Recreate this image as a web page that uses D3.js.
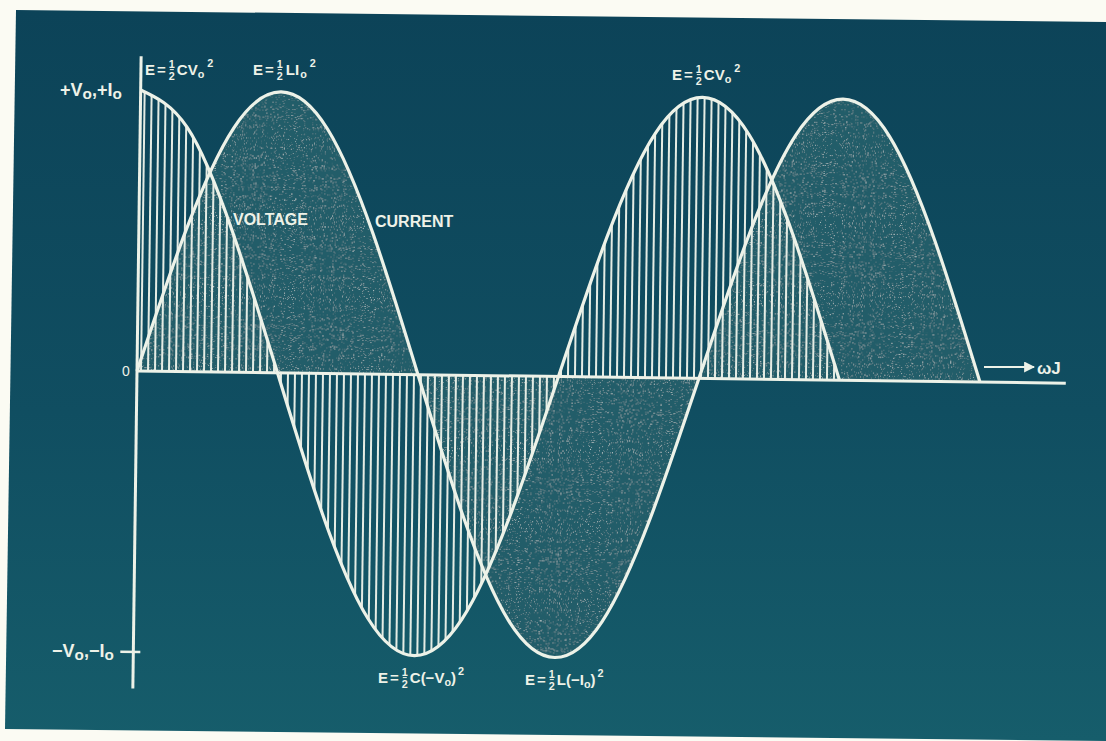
<!DOCTYPE html>
<html>
<head>
<meta charset="utf-8">
<script src="https://cdn.jsdelivr.net/npm/d3@7"></script>
<style>
  html, body { margin: 0; padding: 0; background: #fbfbf3; }
  svg { display: block; }
  text { font-family: "Liberation Sans", Arial, sans-serif; font-weight: bold; fill: #eef2e8; }
</style>
</head>
<body>
<svg id="chart" width="1106" height="741"></svg>
<script>
// Phase angle ωt in degrees, sampled every 30°
const phaseDeg = [0, 30, 60, 90, 120, 150, 180, 210, 240, 270, 300, 330, 360, 390, 420, 450, 480, 510, 540];
// Capacitor voltage, in units of V0 (0° .. 450°)
const voltage = [1, 0.87, 0.5, 0, -0.5, -0.87, -1, -0.87, -0.5, 0, 0.5, 0.87, 1, 0.87, 0.5, 0];
// Coil current, in units of I0 (0° .. 540°)
const current = [0, 0.5, 0.87, 1, 0.87, 0.5, 0, -0.5, -0.87, -1, -0.87, -0.5, 0, 0.5, 0.87, 1, 0.87, 0.5, 0];
// Axis ticks and extent
const yTicks = [-1];
const axisExtent = { xMax: 595, yMin: -1.13, yMax: 1.12 };

const svg = d3.select("#chart");
const W = 1106, H = 741;
const ink = "#edf2e8";

const defs = svg.append("defs");

// panel gradient
const grad = defs.append("linearGradient").attr("id", "panelGrad")
  .attr("x1", 0).attr("y1", 0).attr("x2", 0).attr("y2", 1);
grad.append("stop").attr("offset", "0%").attr("stop-color", "#0c4358");
grad.append("stop").attr("offset", "55%").attr("stop-color", "#104e61");
grad.append("stop").attr("offset", "100%").attr("stop-color", "#165d6b");

// stippled grain used on the current lobes
const grain = defs.append("filter").attr("id", "grain")
  .attr("x", "0%").attr("y", "0%").attr("width", "100%").attr("height", "100%");
grain.append("feTurbulence").attr("type", "fractalNoise").attr("baseFrequency", 0.9)
  .attr("numOctaves", 2).attr("seed", 7).attr("result", "noise");
grain.append("feColorMatrix").attr("in", "noise").attr("type", "matrix")
  .attr("values", "0 0 0 0 0.75  0 0 0 0 0.88  0 0 0 0 0.88  0 0 0 2.6 -1.65")
  .attr("result", "specks");
grain.append("feComposite").attr("in", "specks").attr("in2", "SourceGraphic")
  .attr("operator", "in").attr("result", "specksIn");
const gm = grain.append("feMerge");
gm.append("feMergeNode").attr("in", "SourceGraphic");
gm.append("feMergeNode").attr("in", "specksIn");

// page and panel
svg.append("rect").attr("width", W).attr("height", H).attr("fill", "#fbfbf3");
const panelPts = [[16, 10], [1106, 22], [1106, 741], [5, 729]];
svg.append("polygon").attr("points", panelPts.map(p => p.join(",")).join(" "))
  .attr("fill", "url(#panelGrad)");

// plot frame: origin at the axes crossing, turned slightly clockwise
const g = svg.append("g").attr("transform", "translate(137,371) rotate(0.75)");

const x = d3.scaleLinear().domain([0, 540]).range([0, 843]);
const y = d3.scaleLinear().domain([-1, 1]).range([281, -281]);

const vData = voltage.map((v, i) => ({ p: phaseDeg[i], v }));
const iData = current.map((v, i) => ({ p: phaseDeg[i], v }));

const area = d3.area().x(d => x(d.p)).y0(y(0)).y1(d => y(d.v)).curve(d3.curveNatural);
const line = d3.line().x(d => x(d.p)).y(d => y(d.v)).curve(d3.curveNatural);

// current lobes: grainy lighter fill
g.append("path").attr("d", area(iData))
  .attr("fill", "#215d69").attr("filter", "url(#grain)");

// voltage lobes: vertical hatching clipped to the area
defs.append("clipPath").attr("id", "vClip")
  .append("path").attr("d", area(vData));
const hatch = g.append("g").attr("clip-path", "url(#vClip)");
hatch.selectAll("line")
  .data(d3.range(4, x(450), 7))
  .join("line")
  .attr("x1", d => d).attr("x2", d => d)
  .attr("y1", y(1.05)).attr("y2", y(-1.05))
  .attr("stroke", "#e4ece4").attr("stroke-width", 2);

// axes
g.append("line").attr("x1", 0).attr("x2", x(axisExtent.xMax))
  .attr("y1", y(0)).attr("y2", y(0))
  .attr("stroke", ink).attr("stroke-width", 3);
g.append("line").attr("x1", 0).attr("x2", 0)
  .attr("y1", y(axisExtent.yMax)).attr("y2", y(axisExtent.yMin))
  .attr("stroke", ink).attr("stroke-width", 3);
g.selectAll(".ytick").data(yTicks).join("line").attr("class", "ytick")
  .attr("x1", -13).attr("x2", 7).attr("y1", d => y(d)).attr("y2", d => y(d))
  .attr("stroke", ink).attr("stroke-width", 2.5);

// waveforms
g.append("path").attr("d", line(iData))
  .attr("fill", "none").attr("stroke", ink).attr("stroke-width", 3.2);
g.append("path").attr("d", line(vData))
  .attr("fill", "none").attr("stroke", ink).attr("stroke-width", 3.2);

// arrow toward the ωt label
defs.append("marker").attr("id", "arrowHead").attr("viewBox", "0 0 10 10")
  .attr("refX", 9).attr("refY", 5).attr("markerWidth", 5).attr("markerHeight", 5)
  .attr("orient", "auto")
  .append("path").attr("d", "M0,0 L10,5 L0,10 z").attr("fill", ink);
svg.append("line").attr("x1", 984).attr("y1", 367).attr("x2", 1034).attr("y2", 367)
  .attr("stroke", ink).attr("stroke-width", 2.2).attr("marker-end", "url(#arrowHead)");

// ---- text helpers ----
const labels = svg.append("g");

function formula(x0, y0, parts, size) {
  const grp = labels.append("g");
  let cx = x0;
  parts.forEach(p => {
    if (p.frac) {
      const fs = size * 0.72;
      const a = grp.append("text").attr("x", cx).attr("y", y0 - size * 0.5)
        .style("font-size", fs + "px").text(p.frac[0]);
      const b = grp.append("text").attr("x", cx).attr("y", y0 + size * 0.3)
        .style("font-size", fs + "px").text(p.frac[1]);
      const wa = a.node().getComputedTextLength(), wb = b.node().getComputedTextLength();
      const w = Math.max(wa, wb);
      a.attr("x", cx + (w - wa) / 2);
      b.attr("x", cx + (w - wb) / 2);
      grp.append("line").attr("x1", cx + 1).attr("x2", cx + w - 1)
        .attr("y1", y0 - size * 0.36).attr("y2", y0 - size * 0.36)
        .attr("stroke", ink).attr("stroke-width", 1);
      cx += w + (p.gap || 1);
    } else {
      const small = p.sub || p.sup;
      const fs = small ? size * (p.scale || 0.72) : size;
      const dy = p.sub ? size * 0.18 : p.sup ? -size * 0.55 : 0;
      const t = grp.append("text").attr("x", cx).attr("y", y0 + dy)
        .style("font-size", fs + "px").text(p.t);
      cx += t.node().getComputedTextLength() + (p.gap || 0);
    }
  });
  return grp;
}

// axis labels
formula(60, 96, [{ t: "+V" }, { t: "o", sub: true, scale: 0.85 }, { t: ",+I" }, { t: "o", sub: true, scale: 0.85 }], 18);
labels.append("text").attr("x", 122).attr("y", 376).style("font-size", "14px")
  .style("font-weight", "normal").text("0");
formula(52, 657, [{ t: "−V" }, { t: "o", sub: true, scale: 0.85 }, { t: ",−I" }, { t: "o", sub: true, scale: 0.85 }], 18);
labels.append("text").attr("x", 1037).attr("y", 374).style("font-size", "17px").text("ωJ");

// series labels
labels.append("text").attr("x", 233).attr("y", 225).style("font-size", "16px").text("VOLTAGE");
labels.append("text").attr("x", 375).attr("y", 227).style("font-size", "16px").text("CURRENT");

// energy annotations
const eq = [{ t: "E", gap: 2 }, { t: "=", gap: 3 }];
formula(145, 75, [...eq, { frac: ["1", "2"], gap: 2 }, { t: "CV" }, { t: "o", sub: true, gap: 3 }, { t: "2", sup: true }], 15);
formula(253, 75, [...eq, { frac: ["1", "2"], gap: 3 }, { t: "LI", gap: 1 }, { t: "o", sub: true, gap: 3 }, { t: "2", sup: true }], 15);
formula(672, 80, [...eq, { frac: ["1", "2"], gap: 2 }, { t: "CV" }, { t: "o", sub: true, gap: 3 }, { t: "2", sup: true }], 15);
formula(378, 683, [...eq, { frac: ["1", "2"], gap: 2 }, { t: "C(−V" }, { t: "o", sub: true }, { t: ")", gap: 2 }, { t: "2", sup: true }], 15);
formula(525, 685, [...eq, { frac: ["1", "2"], gap: 2 }, { t: "L(−I" }, { t: "o", sub: true }, { t: ")", gap: 2 }, { t: "2", sup: true }], 15);
</script>
</body>
</html>
